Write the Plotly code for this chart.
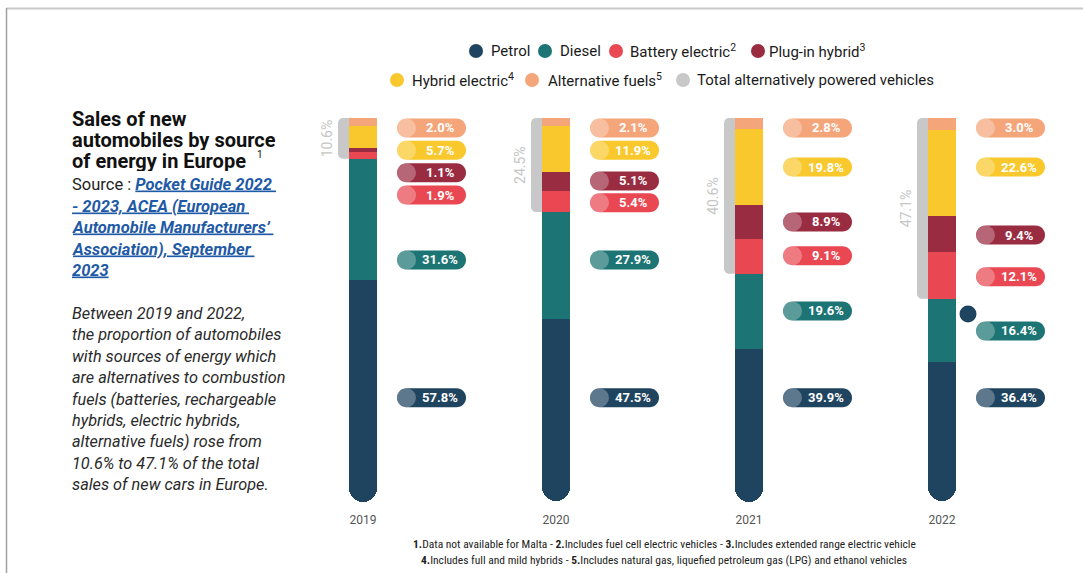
import plotly.graph_objects as go

# ---------------- data ----------------
YEARS = ["2019", "2020", "2021", "2022"]
SERIES = ["Alternative fuels", "Hybrid electric", "Plug-in hybrid", "Battery electric", "Diesel", "Petrol"]
ALT_FUELS = [2.0, 2.1, 2.8, 3.0]
HYBRID = [5.7, 11.9, 19.8, 22.6]
PLUGIN = [1.1, 5.1, 8.9, 9.4]
BATTERY = [1.9, 5.4, 9.1, 12.1]
DIESEL = [31.6, 27.9, 19.6, 16.4]
PETROL = [57.8, 47.5, 39.9, 36.4]
TOTAL_ALT = [10.6, 24.5, 40.6, 47.1]
VALUES = [ALT_FUELS, HYBRID, PLUGIN, BATTERY, DIESEL, PETROL]

COLORS = ["#f4a57a", "#f9c82d", "#9a2c42", "#e94853", "#1c7574", "#1f4460"]
GREY = "#c8c8c8"

# label (pill) vertical placement per year, in axis units (0 = top of bar)
LABEL_Y = [
    [2.6, 8.4, 14.3, 20.1, 37.0, 72.9],
    [2.6, 8.4, 16.4, 22.1, 37.0, 72.9],
    [2.6, 12.8, 27.1, 35.9, 50.3, 72.9],
    [2.6, 12.8, 30.5, 41.4, 55.5, 72.9],
]

# ---------------- geometry helpers ----------------
L, R, T, B = 300, 1050, 118, 502
W, H = R - L, B - T


def fx(px):
    return (px - L) / W


def fy(py):
    return (B - py) / H


def pill_path(x0, x1, h):
    r = h / 2
    k = 0.5523 * r
    return (f"M{x0 + r},{-r} L{x1 - r},{-r} C{x1 - r + k},{-r} {x1},{-k} {x1},0 "
            f"C{x1},{k} {x1 - r + k},{r} {x1 - r},{r} L{x0 + r},{r} "
            f"C{x0 + r - k},{r} {x0},{k} {x0},0 C{x0},{-k} {x0 + r - k},{-r} {x0 + r},{-r} Z")


fig = go.Figure()
xs = list(range(len(YEARS)))
for name, vals, col in zip(SERIES, VALUES, COLORS):
    fig.add_trace(go.Bar(x=xs, y=vals, name=name, marker=dict(color=col, line=dict(width=0)),
                         width=0.145, showlegend=False, hoverinfo="skip"))

shapes = []
annotations = []
px_per_unit = H / 100.1

for i, yr in enumerate(YEARS):
    # bracket for alternative total
    tot = TOTAL_ALT[i]
    rx = 5.0
    ry = rx / px_per_unit
    kx, ky = 0.5523 * rx, 0.5523 * ry
    xl = -25
    path = (f"M0,0 L{xl + rx},0 C{xl + rx - kx},0 {xl},{ry - ky} {xl},{ry} "
            f"L{xl},{tot - ry} C{xl},{tot - ry + ky} {xl + rx - kx},{tot} {xl + rx},{tot} L0,{tot} Z")
    shapes.append(dict(type="path", xref="x", yref="y", xsizemode="pixel", xanchor=i,
                       path=path, fillcolor=GREY, line=dict(width=0), layer="below"))
    annotations.append(dict(x=i, y=tot / 2, xref="x", yref="y", xshift=-36, text=f"{tot}%",
                            textangle=-90, showarrow=False,
                            font=dict(family="Roboto", size=14, color="#c6c6c6")))
    # pills
    for j, (vals, col) in enumerate(zip(VALUES, COLORS)):
        ly = LABEL_Y[i][j]
        shapes.append(dict(type="path", xref="x", yref="y", xsizemode="pixel", ysizemode="pixel",
                           xanchor=i, yanchor=ly, path=pill_path(34, 103, 19),
                           fillcolor=col, line=dict(width=0)))
        shapes.append(dict(type="circle", xref="x", yref="y", xsizemode="pixel", ysizemode="pixel",
                           xanchor=i, yanchor=ly, x0=34, x1=53, y0=-9.5, y1=9.5,
                           fillcolor="rgba(255,255,255,0.28)", line=dict(width=0)))
        annotations.append(dict(x=i, y=ly, xref="x", yref="y", xshift=77, text=f"<b>{vals[i]:.1f}%</b>",
                                showarrow=False, font=dict(family="Roboto", size=13, color="white")))

# stray dot near 2022
shapes.append(dict(type="circle", xref="x", yref="paper", xsizemode="pixel", ysizemode="pixel",
                   xanchor=3, yanchor=fy(314), x0=17.5, x1=34.5, y0=-8.5, y1=8.5,
                   fillcolor="#1f4460", line=dict(width=0)))

# frame lines
shapes.append(dict(type="line", xref="paper", yref="paper", x0=fx(6), x1=fx(1083), y0=fy(8.5), y1=fy(8.5),
                   line=dict(color="#c8c8c8", width=2)))
shapes.append(dict(type="line", xref="paper", yref="paper", x0=fx(6.5), x1=fx(6.5), y0=fy(8), y1=fy(573),
                   line=dict(color="#a0a0a0", width=1.5)))

# legend (manual)
LEGEND = [
    ("Petrol", "#1f4460", 476, 489, 51),
    ("Diesel", "#1c7574", 545, 558, 51),
    ("Battery electric<sup>2</sup>", "#e94853", 616, 628, 51),
    ("Plug-in hybrid<sup>3</sup>", "#9a2c42", 758, 767, 51),
    ("Hybrid electric<sup>4</sup>", "#f9c82d", 397, 410, 80),
    ("Alternative fuels<sup>5</sup>", "#f4a57a", 532, 546, 80),
    ("Total alternatively powered vehicles", GREY, 683, 695, 80),
]
for text, col, cx, tx, cy in LEGEND:
    shapes.append(dict(type="circle", xref="paper", yref="paper", x0=fx(cx - 7), x1=fx(cx + 7),
                       y0=fy(cy + 7), y1=fy(cy - 7), fillcolor=col, line=dict(width=0)))
    annotations.append(dict(x=fx(tx), y=fy(cy), xref="paper", yref="paper", xanchor="left",
                            yanchor="middle", text=text, showarrow=False,
                            font=dict(family="Roboto", size=15, color="#1a1a1a")))

# left text block
LINK = "#1f5aa6"
left_lines = [
    ("<b>Sales of new</b>", 119, 20, "#111111"),
    ("<b>automobiles by source</b>", 140, 20, "#111111"),
    ("<b>of energy in Europe</b>", 161, 20, "#111111"),
    (f"Source : <span style='color:{LINK}'><b><i><u>Pocket Guide 2022 </u></i></b></span>", 184, 16.5, "#222222"),
    (f"<span style='color:{LINK}'><b><i><u>- 2023, ACEA (European </u></i></b></span>", 206, 16.5, "#222222"),
    (f"<span style='color:{LINK}'><b><i><u>Automobile Manufacturers’ </u></i></b></span>", 227, 16.5, "#222222"),
    (f"<span style='color:{LINK}'><b><i><u>Association), September </u></i></b></span>", 249, 16.5, "#222222"),
    (f"<span style='color:{LINK}'><b><i><u>2023</u></i></b></span>", 270, 16.5, "#222222"),
]
PARA = ["Between 2019 and 2022,", "the proportion of automobiles", "with sources of energy which",
        "are alternatives to combustion", "fuels (batteries, rechargeable", "hybrids, electric hybrids,",
        "alternative fuels) rose from", "10.6% to 47.1% of the total", "sales of new cars in Europe."]
for k, line in enumerate(PARA):
    left_lines.append((f"<i>{line}</i>", 313 + 21.4 * k, 16.3, "#2a2a2a"))
for text, y, size, col in left_lines:
    annotations.append(dict(x=fx(71), y=fy(y), xref="paper", yref="paper", xanchor="left", yanchor="middle",
                            text=text, showarrow=False, height=20, valign="middle", borderpad=0,
                            font=dict(family="Roboto", size=size, color=col)))
annotations.append(dict(x=fx(256), y=fy(154), xref="paper", yref="paper", xanchor="left", yanchor="middle",
                        text="1", showarrow=False, borderpad=0, height=10,
                        font=dict(family="Roboto", size=10, color="#111111")))

# footnotes
FOOT = [
    "<b>1.</b>Data not available for Malta - <b>2.</b>Includes fuel cell electric vehicles - <b>3.</b>Includes extended range electric vehicle",
    "<b>4.</b>Includes full and mild hybrids - <b>5.</b>Includes natural gas, liquefied petroleum gas (LPG) and ethanol vehicles",
]
for k, line in enumerate(FOOT):
    annotations.append(dict(x=fx(664), y=fy(544 + 15.5 * k), xref="paper", yref="paper", xanchor="center",
                            yanchor="middle", text=line, showarrow=False, borderpad=0,
                            font=dict(family="Liberation Sans Narrow, Roboto Condensed, Roboto", size=11.5, color="#222222")))

fig.update_layout(
    width=1083, height=573,
    margin=dict(l=L, r=1083 - R, t=T, b=573 - B, pad=0),
    paper_bgcolor="white", plot_bgcolor="white",
    barmode="stack", bargap=0, barcornerradius=14,
    showlegend=False,
    xaxis=dict(range=[-(363 - L) / 193, 3 + (R - 942) / 193], tickvals=xs, ticktext=YEARS,
               showgrid=False, zeroline=False, showline=False, ticks="", ticklabelstandoff=9,
               tickfont=dict(family="Roboto", size=12, color="#555555"), fixedrange=True),
    yaxis=dict(range=[100.1, 0], visible=False, fixedrange=True),
    shapes=shapes, annotations=annotations,
    font=dict(family="Roboto"),
)

fig.write_html("out.html")
